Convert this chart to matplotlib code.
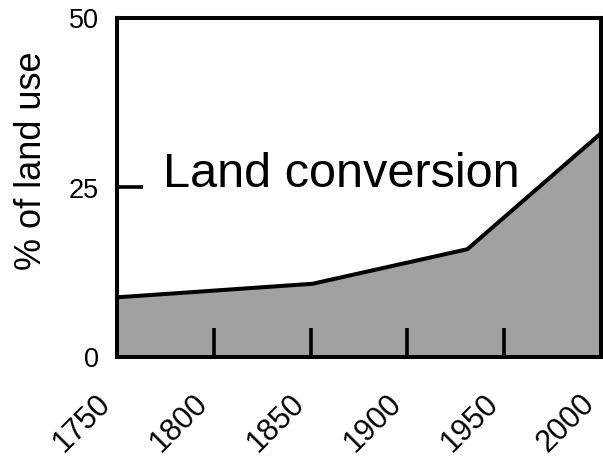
import matplotlib
matplotlib.use("Agg")
import matplotlib.pyplot as plt

years = [1750, 1851, 1931, 2000]
land_pct = [8.8, 10.8, 15.9, 33.0]
xticks = [1750, 1800, 1850, 1900, 1950, 2000]
yticks = [0, 25, 50]
label_text = "Land conversion"

plt.rcParams['font.family'] = ['Liberation Sans', 'DejaVu Sans']

fig = plt.figure(figsize=(6.03, 4.65), dpi=100)
ax = fig.add_axes([117/603, (465-357)/465, (601-117)/603, (357-18)/465])

ax.fill_between(years, land_pct, 0, color='#a1a1a1', linewidth=0)
ax.plot(years, land_pct, color='black', linewidth=2.9, solid_joinstyle='miter')

ax.set_xlim(1750, 2000)
ax.set_ylim(0, 50)
ax.set_xticks(xticks)
ax.set_yticks(yticks)
ax.set_xticklabels([str(t) for t in xticks], rotation=45, ha='right', va='top',
                   rotation_mode='default', fontsize=22)
ax.set_yticklabels([str(t) for t in yticks], fontsize=19.5)
ax.tick_params(axis='x', direction='in', length=21, width=2.6, pad=23)
ax.tick_params(axis='y', direction='in', length=19, width=2.6, pad=13)
for s in ax.spines.values():
    s.set_linewidth(2.9)

ax.set_ylabel("% of land use", fontsize=26)
ax.yaxis.set_label_coords(-0.14, 0.58)

ax.text(1774, 25.1, label_text, fontsize=35, ha='left', va='baseline')

fig.savefig("out.png", dpi=100)
